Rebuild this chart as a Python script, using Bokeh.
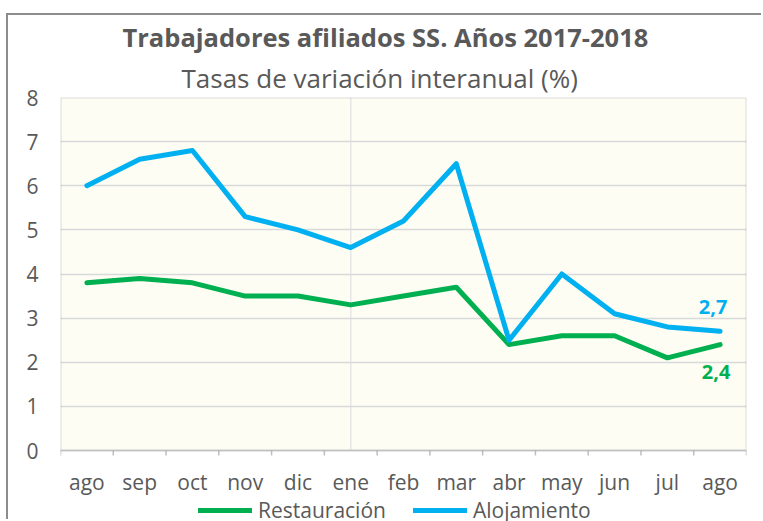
import math
from bokeh.plotting import figure
from bokeh.core.properties import value
from bokeh.models import (FactorRange, Range1d, Legend, LegendItem, Label, LabelSet, Title,
                          LinearAxis, FixedTicker, BoxAnnotation, ColumnDataSource)
from bokeh.embed import file_html
from bokeh.resources import INLINE

# ---- data ----
month_labels = ["ago", "sep", "oct", "nov", "dic", "ene", "feb",
                "mar", "abr", "may", "jun", "jul", "ago"]
restauracion = [3.8, 3.9, 3.8, 3.5, 3.5, 3.3, 3.5, 3.7, 2.4, 2.6, 2.6, 2.1, 2.4]
alojamiento = [6.0, 6.6, 6.8, 5.3, 5.0, 4.6, 5.2, 6.5, 2.5, 4.0, 3.1, 2.8, 2.7]
y_ticks = [0, 1, 2, 3, 4, 5, 6, 7, 8]
title_text = "Trabajadores afiliados SS. Años 2017-2018"
subtitle_text = "Tasas de variación interanual (%)"
last_rest_label = "2,4"
last_aloj_label = "2,7"
year_start = "ene"

# unique factors (second "ago" gets an invisible zero-width space)
factors = []
for m in month_labels:
    f = m
    while f in factors:
        f += "\u200b"
    factors.append(f)

FONT = "Open Sans"
GREEN = "#00B050"
BLUE = "#00B0F0"
GREY_TXT = "#595959"
GREY_LINE = "#8C8C8C"

# frame spans the plot area plus the space below it (x labels + legend)
PX_PER_UNIT = 353 / 8.0
Y_MIN = -71 / PX_PER_UNIT

p = figure(width=755, height=506, output_backend="svg", toolbar_location=None,
           x_range=FactorRange(factors=factors, range_padding=0),
           y_range=Range1d(Y_MIN, y_ticks[-1]),
           x_axis_location=None, y_axis_location=None,
           min_border_left=52, min_border_right=17,
           min_border_top=82, min_border_bottom=0)
p.styles = {"margin-top": "13px", "margin-left": "6px",
            "border-top": "2px solid #8C8C8C", "border-left": "2px solid #8C8C8C"}

p.background_fill_color = "white"
p.border_fill_color = "white"
p.outline_line_color = None

n = len(factors)
# plot area background and border
p.add_layout(BoxAnnotation(left=0, right=n, bottom=y_ticks[0], top=y_ticks[-1],
                           fill_color="#FDFDF4", fill_alpha=1, line_color=None,
                           level="image"))
p.add_layout(BoxAnnotation(left=0, right=n, bottom=y_ticks[0], top=y_ticks[-1],
                           fill_color=None, line_color=GREY_LINE, line_width=2,
                           level="overlay"))

# y axis
yax = LinearAxis(ticker=FixedTicker(ticks=y_ticks))
yax.axis_line_color = None
yax.major_tick_line_color = None
yax.minor_tick_line_color = None
yax.major_label_text_font = FONT
yax.major_label_text_font_size = "21px"
yax.major_label_text_color = GREY_TXT
yax.major_label_standoff = 16
p.add_layout(yax, "left")

p.ygrid.ticker = FixedTicker(ticks=y_ticks)
p.ygrid.grid_line_color = "#D9D9D9"
p.ygrid.grid_line_width = 1.5
p.xgrid.grid_line_color = None

# x tick marks at category boundaries, below the plot area
bounds = list(range(n + 1))
p.ray(x=bounds, y=[y_ticks[0]] * len(bounds), length=5, length_units="screen",
      angle=-math.pi / 2, line_color="#BFBFBF", line_width=1.5)

# x category labels
lab_src = ColumnDataSource(dict(x=factors, y=[y_ticks[0]] * n, text=month_labels))
p.add_layout(LabelSet(x="x", y="y", text="text", source=lab_src, y_offset=-31,
                      text_align="center", text_baseline="middle",
                      text_font=value(FONT), text_font_size=value("21px"),
                      text_color=GREY_TXT))

# vertical year marker at "ene"
p.segment(x0=[year_start], y0=[y_ticks[0]], x1=[year_start], y1=[y_ticks[-1]],
          line_color="#E6E6E6", line_width=1.5, level="underlay")

r1 = p.line(factors, restauracion, line_color=GREEN, line_width=5,
            line_cap="round", line_join="round")
r2 = p.line(factors, alojamiento, line_color=BLUE, line_width=5,
            line_cap="round", line_join="round")

p.add_layout(Label(x=n - 0.5, y=alojamiento[-1], text=last_aloj_label, x_offset=-7, y_offset=24,
                   text_align="center", text_baseline="middle", text_font=FONT,
                   text_font_style="bold", text_font_size="20px", text_color=BLUE))
p.add_layout(Label(x=n - 0.5, y=restauracion[-1], text=last_rest_label, x_offset=-4, y_offset=-27,
                   text_align="center", text_baseline="middle", text_font=FONT,
                   text_font_style="bold", text_font_size="20px", text_color=GREEN))

# titles (subtitle first = nearest to the frame)
p.add_layout(Title(text=subtitle_text, align="left", offset=121, standoff=4,
                   text_font=FONT, text_font_style="normal", text_font_size="26px",
                   text_color=GREY_TXT), "above")
p.add_layout(Title(text=title_text, align="left", offset=62, standoff=3,
                   text_font=FONT, text_font_style="bold", text_font_size="25.5px",
                   text_color=GREY_TXT), "above")

legend = Legend(items=[LegendItem(label="Restauración", renderers=[r1]),
                       LegendItem(label="Alojamiento", renderers=[r2])],
                orientation="horizontal", location=(138, -3))
legend.glyph_width = 54
legend.glyph_height = 20
legend.label_standoff = 6
legend.spacing = 27
legend.padding = 0
legend.margin = 0
legend.border_line_color = None
legend.background_fill_color = None
legend.label_text_font = FONT
legend.label_text_font_size = "21px"
legend.label_text_color = GREY_TXT
p.add_layout(legend, "center")

open("out.html", "w").write(file_html(p, INLINE))
